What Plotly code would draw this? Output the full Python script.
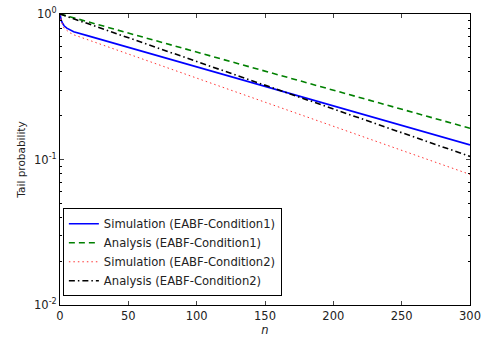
import plotly.graph_objects as go

n_sim = [0, 1, 2, 3, 5, 7, 10, 20, 50, 100, 150, 200, 250, 300]
sim_c1 = [1.0, 0.90, 0.86, 0.83, 0.80, 0.78, 0.755, 0.71, 0.59, 0.434, 0.318, 0.234, 0.172, 0.126]
sim_c2 = [1.0, 0.88, 0.83, 0.80, 0.77, 0.745, 0.72, 0.667, 0.531, 0.362, 0.248, 0.169, 0.116, 0.079]

n_ana = [0, 50, 100, 150, 200, 250, 300]
ana_c1 = [1.0, 0.740, 0.547, 0.405, 0.299, 0.221, 0.164]
ana_c2 = [1.0, 0.687, 0.472, 0.324, 0.222, 0.153, 0.105]

x_ticks = [0, 50, 100, 150, 200, 250, 300]
y_ticks = [0.01, 0.1, 1]
y_ticktext = ["10<sup>-2</sup>", "10<sup>-1</sup>", "10<sup>0</sup>"]

fig = go.Figure()
fig.add_trace(go.Scatter(x=n_sim, y=sim_c1, mode="lines", name="Simulation (EABF-Condition1)",
                         line=dict(color="#0000ff", width=1.6)))
fig.add_trace(go.Scatter(x=n_ana, y=ana_c1, mode="lines", name="Analysis (EABF-Condition1)",
                         line=dict(color="#008000", width=1.6, dash="6px,4px")))
fig.add_trace(go.Scatter(x=n_sim, y=sim_c2, mode="lines", name="Simulation (EABF-Condition2)",
                         line=dict(color="#ff3333", width=1, dash="1.5px,3px")))
fig.add_trace(go.Scatter(x=n_ana, y=ana_c2, mode="lines", name="Analysis (EABF-Condition2)",
                         line=dict(color="#000000", width=1.6, dash="6px,3px,1.5px,3px")))

font = "DejaVu Sans, sans-serif"
fig.update_layout(
    width=485, height=338,
    margin=dict(l=60, r=15, t=14, b=33, autoexpand=False),
    paper_bgcolor="white", plot_bgcolor="white",
    font=dict(family=font, size=11.5, color="#222"),
    showlegend=True,
    legend=dict(x=0.007, y=0.03, xanchor="left", yanchor="bottom",
                bordercolor="black", borderwidth=1, bgcolor="white",
                font=dict(family=font, size=11.6, color="#222"),
                tracegroupgap=0, itemwidth=30),
    xaxis=dict(range=[0, 300], tickvals=x_ticks, ticks="inside", ticklen=4,
               showline=True, linecolor="black", linewidth=1, mirror="ticks",
               showgrid=False, zeroline=False, automargin=False,
               ticklabeloverflow="allow",
               tickfont=dict(size=11.5),
               title=dict(text="<i>n</i>", standoff=0, font=dict(size=11.5))),
    yaxis=dict(type="log", range=[-2, 0], tickvals=y_ticks, ticktext=y_ticktext,
               ticks="inside", ticklen=4,
               showline=True, linecolor="black", linewidth=1, mirror="ticks",
               showgrid=False, zeroline=False, automargin=False,
               ticklabeloverflow="allow",
               tickfont=dict(size=11.5),
               minor=dict(ticks="inside", ticklen=2, tickcolor="black", showgrid=False,
                          tickvals=[v * d for d in [0.01, 0.1] for v in range(2, 10)]),
               title=dict(text="Tail probability", standoff=6, font=dict(size=10.5))),
)

# remove the browser's default 8px body margin so the figure fills the window
fig.write_html("out.html", config={"displayModeBar": False},
               post_script="document.body.style.margin='0px';")
